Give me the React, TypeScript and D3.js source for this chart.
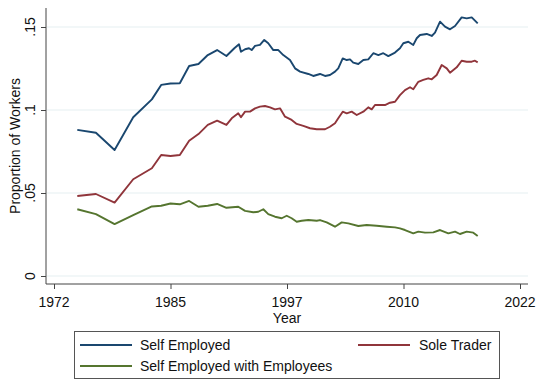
import { useEffect, useRef } from "react";
import * as d3 from "d3";

// Self employed share of workers as [year, proportion]
const selfEmployed: [number, number][] = [
  [1975, 0.088], [1977, 0.0863], [1979, 0.0759], [1981, 0.0956], [1983, 0.1064],
  [1984, 0.1151], [1985, 0.116], [1986, 0.1161], [1987, 0.1265], [1988, 0.1277],
  [1989, 0.1331], [1990, 0.1361], [1991, 0.1325], [1991.85, 0.1372], [1992.35, 0.1396],
  [1992.56, 0.1351], [1993.0, 0.1366], [1993.42, 0.1372], [1993.71, 0.1361], [1994.07, 0.1386],
  [1994.6, 0.1392], [1995.06, 0.1422], [1995.49, 0.1402], [1996.03, 0.1361], [1996.57, 0.1361],
  [1997.1, 0.1331], [1997.82, 0.1301], [1998.36, 0.1251], [1998.9, 0.1231], [1999.79, 0.1217],
  [2000.32, 0.1205], [2001.04, 0.1217], [2001.58, 0.1205], [2002.11, 0.1211], [2002.65, 0.1231],
  [2003.0, 0.1251], [2003.48, 0.1311], [2003.91, 0.1301], [2004.26, 0.1305], [2004.61, 0.1285],
  [2005.15, 0.1277], [2005.69, 0.1301], [2006.22, 0.1305], [2006.76, 0.1342], [2007.3, 0.1331],
  [2007.83, 0.1342], [2008.37, 0.1325], [2009.09, 0.1346], [2009.62, 0.1372], [2009.98, 0.1402],
  [2010.52, 0.1411], [2011.05, 0.1392], [2011.42, 0.1432], [2011.77, 0.1452], [2012.49, 0.1458],
  [2013.03, 0.1446], [2013.38, 0.1466], [2013.92, 0.1532], [2014.45, 0.1502], [2014.99, 0.1486],
  [2015.53, 0.1506], [2016.24, 0.1558], [2016.78, 0.1552], [2017.32, 0.1558], [2017.67, 0.1538],
  [2017.96, 0.1522],
];

const soleTrader: [number, number][] = [
  [1975, 0.0482], [1977, 0.0494], [1979, 0.0442], [1981, 0.0583], [1983, 0.0649],
  [1984, 0.0729], [1985, 0.0723], [1986, 0.0729], [1987, 0.0815], [1988, 0.0855],
  [1989, 0.091], [1990, 0.0936], [1991, 0.091], [1991.57, 0.095], [1992.27, 0.098],
  [1992.56, 0.0956], [1993.0, 0.099], [1993.53, 0.099], [1994.07, 0.101], [1994.6, 0.102],
  [1995.14, 0.1024], [1995.68, 0.1016], [1996.21, 0.1004], [1996.75, 0.101], [1997.29, 0.096],
  [1998.0, 0.094], [1998.54, 0.0916], [1999.25, 0.0904], [1999.97, 0.089], [2000.69, 0.0884],
  [2001.58, 0.0884], [2002.11, 0.0899], [2002.65, 0.092], [2003.0, 0.095], [2003.48, 0.099],
  [2003.91, 0.098], [2004.44, 0.099], [2004.98, 0.097], [2005.69, 0.099], [2006.22, 0.1016],
  [2006.59, 0.1004], [2006.94, 0.103], [2007.48, 0.103], [2008.01, 0.103], [2008.55, 0.1044],
  [2009.09, 0.105], [2009.62, 0.109], [2010.16, 0.112], [2010.7, 0.1137], [2011.05, 0.1125],
  [2011.59, 0.117], [2012.12, 0.1181], [2012.66, 0.1191], [2013.03, 0.1185], [2013.56, 0.1211],
  [2014.1, 0.1271], [2014.64, 0.1251], [2014.99, 0.1225], [2015.71, 0.1257], [2016.24, 0.1297],
  [2016.78, 0.1291], [2017.32, 0.1291], [2017.67, 0.1297], [2017.96, 0.1287],
];

const withEmployees: [number, number][] = [
  [1975, 0.0402], [1977, 0.0373], [1979, 0.0313], [1981, 0.0367], [1983, 0.0419],
  [1984, 0.0423], [1985, 0.0437], [1986, 0.0432], [1987, 0.0452], [1988, 0.0417],
  [1989, 0.0423], [1990, 0.0434], [1991, 0.0411], [1992.27, 0.0417], [1993.0, 0.0392],
  [1993.88, 0.0384], [1994.42, 0.0387], [1994.96, 0.0402], [1995.49, 0.0373], [1996.21, 0.0357],
  [1996.93, 0.0348], [1997.47, 0.0363], [1998.0, 0.0348], [1998.54, 0.0327], [1999.08, 0.0333],
  [1999.79, 0.0337], [2000.69, 0.0333], [2001.04, 0.0337], [2001.76, 0.0323], [2002.65, 0.0297],
  [2003.37, 0.0323], [2004.08, 0.0317], [2005.15, 0.0301], [2006.05, 0.0307], [2007.12, 0.0303],
  [2008.2, 0.0297], [2009.09, 0.0293], [2009.62, 0.0287], [2010.16, 0.0277], [2011.05, 0.0257],
  [2011.59, 0.0267], [2012.31, 0.0261], [2013.2, 0.0263], [2013.92, 0.0277], [2014.81, 0.0257],
  [2015.53, 0.0267], [2016.06, 0.0253], [2016.78, 0.0267], [2017.49, 0.0261], [2017.96, 0.0241],
];

const xTicks = [1972.5, 1985, 1997.5, 2010, 2022.5];
const xTickLabels = ["1972", "1985", "1997", "2010", "2022"];
const yTicks = [0, 0.05, 0.1, 0.15];
const yTickLabels = ["0", ".05", ".1", ".15"];

const seriesNames = ["Self Employed", "Sole Trader", "Self Employed with Employees"];
const seriesColors = ["#1a476f", "#90353b", "#55752f"];

function App() {
  const ref = useRef<SVGSVGElement>(null);

  const width = 542;
  const height = 384;
  const plot = { left: 46, right: 528, top: 8, bottom: 284 };
  const font = "'Liberation Sans', Arial, sans-serif";

  useEffect(() => {
    const svg = d3.select(ref.current);
    svg.selectAll("*").remove();

    const x = d3.scaleLinear().domain([1975, 2022.5]).range([77.3, 520]);
    const y = d3.scaleLinear().domain([0, 0.15]).range([276, 27]);

    svg.append("rect").attr("width", width).attr("height", height).attr("fill", "white");

    // grid lines
    svg.append("g")
      .selectAll("line")
      .data(yTicks)
      .enter()
      .append("line")
      .attr("x1", plot.left + 1)
      .attr("x2", plot.right)
      .attr("y1", (d) => y(d))
      .attr("y2", (d) => y(d))
      .attr("stroke", "#e6eff2")
      .attr("stroke-width", 1.2);

    // lines
    const line = d3.line<[number, number]>()
      .x((d) => x(d[0]))
      .y((d) => y(d[1]));

    [selfEmployed, soleTrader, withEmployees].forEach((data, i) => {
      svg.append("path")
        .datum(data)
        .attr("d", line)
        .attr("fill", "none")
        .attr("stroke", seriesColors[i])
        .attr("stroke-width", 1.9)
        .attr("stroke-linejoin", "round");
    });

    // y axis
    const yAxis = svg.append("g")
      .attr("transform", `translate(${plot.left}, 0)`)
      .call(d3.axisLeft(y).tickValues(yTicks).tickSize(5).tickFormat(() => ""));
    yAxis.select(".domain").attr("d", `M0,${plot.top}V${plot.bottom}`).attr("stroke", "#444");
    yAxis.selectAll(".tick line").attr("stroke", "#444");

    svg.append("g")
      .selectAll("text")
      .data(yTicks)
      .enter()
      .append("text")
      .attr("transform", (d) => `translate(35, ${y(d)}) rotate(-90)`)
      .attr("text-anchor", "middle")
      .attr("font-family", font)
      .attr("font-size", 14)
      .attr("fill", "#111")
      .text((d, i) => yTickLabels[i]);

    // x axis
    const xAxis = svg.append("g")
      .attr("transform", `translate(0, ${plot.bottom})`)
      .call(d3.axisBottom(x).tickValues(xTicks).tickSize(5).tickFormat(() => ""));
    xAxis.select(".domain").attr("d", `M${plot.left},0H${plot.right}`).attr("stroke", "#444");
    xAxis.selectAll(".tick line").attr("stroke", "#444");

    svg.append("g")
      .selectAll("text")
      .data(xTicks)
      .enter()
      .append("text")
      .attr("x", (d) => x(d))
      .attr("y", 307)
      .attr("text-anchor", "middle")
      .attr("font-family", font)
      .attr("font-size", 14)
      .attr("fill", "#111")
      .text((d, i) => xTickLabels[i]);

    svg.append("text")
      .attr("x", x(1997.5))
      .attr("y", 323)
      .attr("text-anchor", "middle")
      .attr("font-family", font)
      .attr("font-size", 14)
      .attr("fill", "#111")
      .text("Year");

    svg.append("text")
      .attr("transform", `translate(20, 146) rotate(-90)`)
      .attr("text-anchor", "middle")
      .attr("font-family", font)
      .attr("font-size", 14)
      .attr("fill", "#111")
      .text("Proportion of Workers");

    // legend
    const legend = svg.append("g");
    legend.append("rect")
      .attr("x", 74.5)
      .attr("y", 331.5)
      .attr("width", 425)
      .attr("height", 47)
      .attr("fill", "white")
      .attr("stroke", "#555")
      .attr("stroke-width", 1);

    const legendPos = [
      { lx: 80, tx: 140, ly: 345 },
      { lx: 358, tx: 419, ly: 345 },
      { lx: 80, tx: 140, ly: 366 },
    ];
    seriesNames.forEach((name, i) => {
      const p = legendPos[i];
      legend.append("line")
        .attr("x1", p.lx)
        .attr("x2", p.lx + 52)
        .attr("y1", p.ly)
        .attr("y2", p.ly)
        .attr("stroke", seriesColors[i])
        .attr("stroke-width", 1.9);
      legend.append("text")
        .attr("x", p.tx)
        .attr("y", p.ly + 5)
        .attr("font-family", font)
        .attr("font-size", 14)
        .attr("fill", "#111")
        .text(name);
    });
  }, []);

  return (
    <div style={{ position: "absolute", left: 0, top: 0 }}>
      <svg ref={ref} width={width} height={height}></svg>
    </div>
  );
}

export default App;
